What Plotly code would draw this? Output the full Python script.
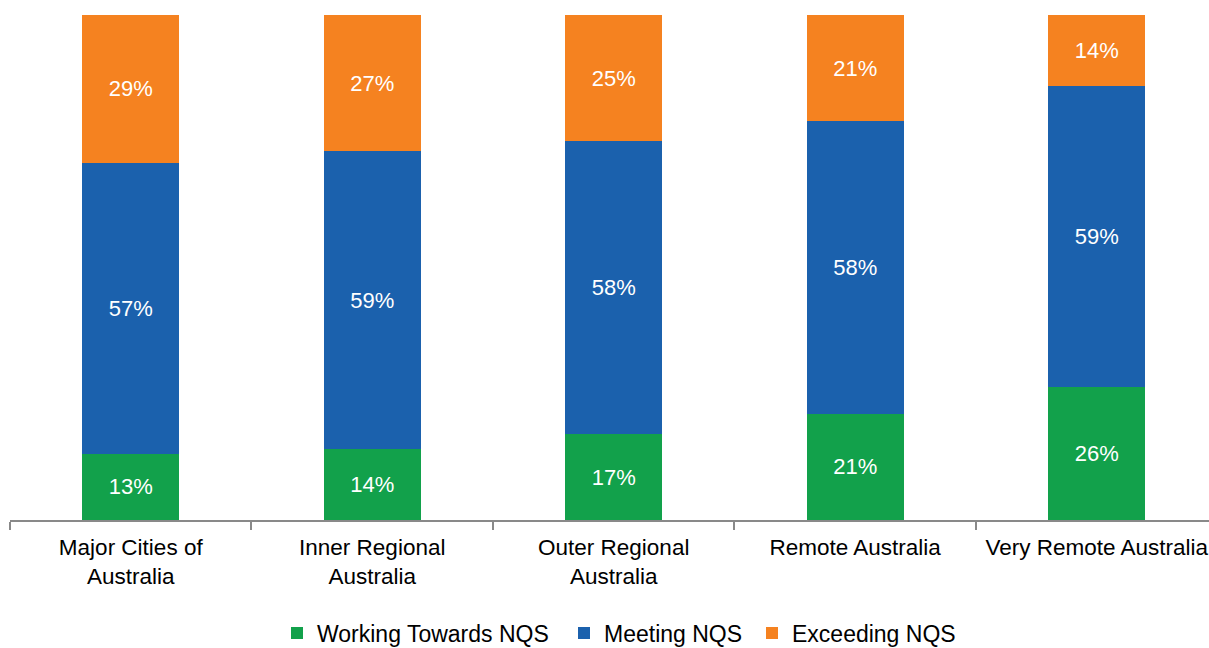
import plotly.graph_objects as go

# NQS rating shares (%) by remoteness area
regions = [
    "Major Cities of<br>Australia",
    "Inner Regional<br>Australia",
    "Outer Regional<br>Australia",
    "Remote Australia",
    "Very Remote Australia",
]
working_towards = [13, 14, 17, 21, 26]
meeting = [57, 59, 58, 58, 59]
exceeding = [29, 27, 25, 21, 14]

series = [
    ("Working Towards NQS", working_towards, "#12A14B"),
    ("Meeting NQS", meeting, "#1B61AD"),
    ("Exceeding NQS", exceeding, "#F58220"),
]
# left edge (px) of each legend entry along the bottom row
legend_left_px = [277, 564, 752]

FONT = "Liberation Sans, Arial, sans-serif"
W, H = 1209, 648

fig = go.Figure()
legend_ids = ["legend", "legend2", "legend3"]
for (name, vals, color), lid in zip(series, legend_ids):
    fig.add_trace(go.Bar(
        name=name,
        x=regions,
        y=vals,
        legend=lid,
        marker=dict(color=color, line=dict(width=0)),
        text=[f"{v}%" for v in vals],
        texttemplate="%{text}",
        textposition="inside",
        insidetextanchor="middle",
        textangle=0,
        textfont=dict(color="white", size=22, family=FONT),
    ))

legend_style = dict(
    orientation="h",
    xref="container",
    xanchor="left",
    yref="container",
    y=0.023,
    yanchor="middle",
    font=dict(size=23, family=FONT, color="#000000"),
    itemwidth=30,
    bgcolor="rgba(0,0,0,0)",
)
legends = {}
for lid, left in zip(legend_ids, legend_left_px):
    legends[lid] = dict(legend_style, x=left / W)

fig.update_layout(
    barmode="stack",
    barnorm="percent",
    bargap=0.6,
    width=W,
    height=H,
    margin=dict(l=10, r=0, t=15, b=128, autoexpand=False),
    paper_bgcolor="white",
    plot_bgcolor="white",
    font=dict(family=FONT, size=22, color="#000000"),
    xaxis=dict(
        range=[-0.5, 4.465],
        automargin=False,
        showline=True,
        linecolor="#898989",
        linewidth=2,
        ticks="outside",
        tickson="boundaries",
        ticklen=8,
        tickwidth=2,
        tickcolor="#898989",
        ticklabelstandoff=6,
        tickfont=dict(size=22.5, family=FONT, color="#000000"),
        showgrid=False,
    ),
    yaxis=dict(
        range=[0, 100],
        visible=False,
        showgrid=False,
    ),
    showlegend=True,
    **legends,
)

fig.write_html("out.html")
